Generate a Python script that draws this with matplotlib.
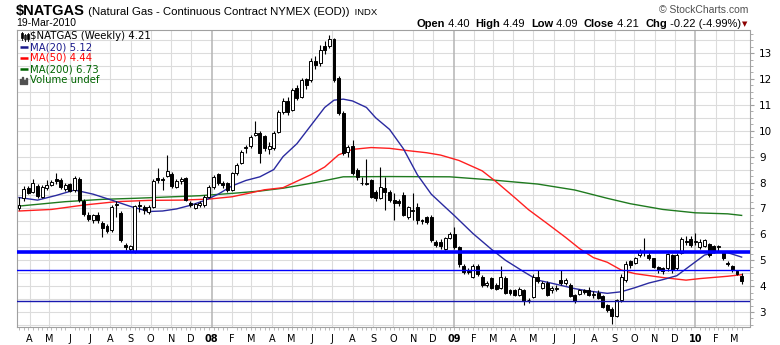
import numpy as np
import pandas as pd
import matplotlib
matplotlib.use('Agg')
import matplotlib.pyplot as plt

# weekly OHLC, first bar = week of 16-Mar-2007, last = 19-Mar-2010
opens = [7.02, 7.39, 7.77, 7.65, 7.88, 7.43, 7.78, 7.90, 8.12, 8.10,
         7.74, 7.93, 7.71, 8.12, 7.28, 6.74, 6.55, 6.74, 6.42, 6.32,
         6.16, 7.13, 6.81, 5.58, 5.45, 5.32, 7.13, 7.06, 6.87, 7.04,
         8.16, 8.14, 8.25, 8.33, 7.84, 8.07, 8.16, 7.19, 7.03, 7.13,
         7.13, 7.45, 7.84, 8.32, 7.97, 7.97, 7.71, 8.38, 8.77, 9.32,
         9.41, 9.84, 9.93, 9.78, 9.28, 9.32, 9.95, 10.74, 11.15, 10.80,
         11.64, 11.30, 11.99, 11.97, 12.68, 12.61, 13.26, 13.26, 13.54, 12.03,
         10.68, 9.19, 9.41, 8.48, 8.00, 7.95, 8.10, 7.65, 7.39, 7.77,
         7.65, 7.32, 7.30, 7.52, 6.68, 6.90, 7.05, 6.55, 6.65, 6.68,
         5.71, 5.71, 5.45, 5.84, 6.00, 5.52, 4.78, 4.60, 4.36, 4.78,
         4.36, 4.03, 4.32, 4.06, 3.91, 4.32, 3.84, 3.84, 3.65, 3.84,
         3.48, 3.58, 4.36, 3.92, 4.13, 3.84, 3.90, 4.22, 4.13, 4.06,
         3.65, 3.71, 3.84, 3.84, 3.65, 3.74, 3.60, 3.26, 3.13, 2.85,
         3.45, 4.23, 4.96, 4.90, 5.20, 5.30, 5.20, 5.07, 4.72, 4.68,
         4.68, 5.20, 4.68, 5.26, 5.75, 5.80, 5.70, 5.52, 5.55, 5.62,
         5.54, 5.50, 5.26, 4.90, 4.77, 4.59, 4.40]
highs = [7.45, 7.85, 7.85, 8.12, 7.95, 7.90, 8.10, 8.10, 8.38, 8.18,
         7.98, 8.00, 8.25, 8.22, 7.35, 6.85, 6.80, 6.85, 6.50, 6.40,
         7.12, 7.30, 6.90, 5.65, 5.60, 7.15, 7.30, 7.15, 7.15, 8.15,
         8.57, 8.20, 9.06, 8.40, 8.15, 8.20, 8.20, 7.28, 7.22, 7.30,
         7.50, 7.90, 8.30, 8.38, 8.05, 8.02, 8.40, 8.75, 9.25, 9.45,
         9.85, 10.39, 10.00, 9.85, 9.55, 9.98, 10.80, 11.25, 11.30, 11.65,
         11.75, 12.05, 12.05, 12.80, 12.90, 13.30, 13.45, 13.69, 13.60, 12.10,
         10.75, 9.45, 9.64, 8.55, 8.23, 8.90, 8.15, 7.70, 8.59, 8.20,
         7.70, 7.58, 7.35, 7.65, 7.10, 7.58, 7.20, 6.60, 6.70, 6.75,
         5.78, 5.80, 5.90, 6.10, 6.29, 5.56, 4.85, 4.70, 4.85, 4.85,
         4.42, 4.20, 4.35, 4.10, 4.78, 4.38, 3.90, 3.90, 3.95, 3.90,
         3.55, 4.45, 4.62, 4.20, 4.18, 4.00, 4.05, 4.62, 4.30, 4.12,
         3.70, 3.90, 3.90, 3.95, 3.80, 3.85, 3.65, 3.30, 3.18, 3.50,
         4.45, 4.95, 5.02, 5.12, 5.45, 5.84, 5.30, 5.10, 4.78, 4.75,
         5.26, 5.25, 5.28, 5.90, 5.92, 5.95, 6.05, 5.80, 5.82, 5.66,
         5.60, 5.60, 5.30, 4.95, 4.80, 4.62, 4.49]
lows = [6.95, 7.30, 7.55, 7.60, 7.42, 7.40, 7.70, 7.85, 7.95, 7.75,
        7.68, 7.62, 7.65, 7.25, 6.70, 6.50, 6.45, 6.45, 5.90, 6.05,
        6.10, 6.68, 5.70, 5.40, 5.30, 5.28, 6.85, 6.80, 6.80, 7.00,
        8.00, 7.71, 8.20, 7.80, 7.80, 7.95, 7.30, 7.05, 6.98, 7.05,
        7.05, 7.40, 7.75, 7.90, 7.80, 7.65, 7.68, 8.30, 8.70, 9.15,
        9.35, 9.78, 8.74, 9.20, 9.10, 9.25, 9.90, 10.65, 10.60, 10.75,
        11.20, 11.25, 11.60, 11.90, 12.40, 12.50, 12.95, 13.20, 11.90, 10.60,
        9.05, 9.00, 8.30, 8.10, 7.90, 7.90, 7.40, 7.30, 7.35, 6.95,
        7.25, 6.55, 7.10, 6.70, 6.60, 6.55, 6.40, 6.40, 6.40, 5.70,
        5.50, 5.45, 5.40, 5.80, 5.45, 4.75, 4.45, 4.45, 4.30, 4.40,
        3.95, 3.95, 3.88, 3.85, 3.88, 3.70, 3.65, 3.60, 3.60, 3.28,
        3.35, 3.55, 4.10, 3.88, 3.60, 3.75, 3.80, 4.05, 4.05, 3.58,
        3.35, 3.65, 3.70, 3.60, 3.55, 3.50, 3.15, 3.00, 2.55, 2.80,
        3.40, 4.15, 4.70, 4.85, 5.12, 5.18, 5.00, 4.68, 4.50, 4.48,
        4.60, 4.50, 4.62, 5.22, 5.60, 5.52, 5.60, 5.45, 5.50, 5.12,
        5.28, 5.30, 5.00, 4.78, 4.55, 4.42, 4.09]
closes = [7.13, 7.75, 7.61, 7.97, 7.48, 7.84, 7.90, 8.03, 8.07, 7.81,
          7.90, 7.68, 8.16, 7.32, 6.77, 6.58, 6.74, 6.55, 6.25, 6.12,
          7.06, 7.16, 5.78, 5.52, 5.54, 7.09, 7.10, 6.94, 7.06, 8.07,
          8.10, 8.10, 8.45, 7.87, 8.07, 8.12, 7.32, 7.13, 7.16, 7.19,
          7.45, 7.81, 8.20, 7.97, 7.90, 7.71, 8.36, 8.68, 9.19, 9.36,
          9.77, 9.93, 9.13, 9.32, 9.40, 9.90, 10.72, 11.15, 10.74, 11.56,
          11.28, 11.97, 11.75, 12.68, 12.55, 13.13, 13.13, 13.54, 11.97, 10.68,
          9.13, 9.39, 8.36, 8.23, 7.97, 8.00, 7.45, 7.39, 7.84, 7.65,
          7.32, 7.22, 7.20, 6.74, 7.06, 6.95, 6.55, 6.50, 6.48, 5.78,
          5.58, 5.55, 5.84, 6.03, 5.52, 4.85, 4.55, 4.55, 4.78, 4.45,
          4.03, 4.10, 3.93, 3.90, 4.36, 3.75, 3.72, 3.65, 3.88, 3.41,
          3.45, 4.36, 4.19, 4.12, 3.65, 3.93, 3.93, 4.13, 4.22, 3.62,
          3.41, 3.84, 3.78, 3.65, 3.71, 3.55, 3.20, 3.07, 2.85, 3.45,
          4.35, 4.87, 4.81, 5.07, 5.35, 5.36, 5.07, 4.72, 4.61, 4.60,
          5.22, 4.64, 5.20, 5.81, 5.70, 5.58, 5.73, 5.71, 5.77, 5.20,
          5.36, 5.52, 5.07, 4.85, 4.61, 4.48, 4.21]

# moving averages (week index, value)
ma20_idx = [0, 4, 8, 12, 16, 20, 24, 28, 31, 34, 37, 40, 43, 46, 49, 52, 55, 57, 60, 63,
            66, 68, 70, 72, 75, 77, 80, 83, 86, 89, 92, 94, 98, 102, 105, 109, 112, 116, 120, 123,
            127, 130, 133, 136, 139, 142, 145, 148, 151, 153, 156]
ma20_val = [7.42, 7.32, 7.50, 7.71, 7.55, 7.32, 7.08, 6.88, 6.90, 6.98, 7.12, 7.30, 7.55, 7.87, 8.08, 8.22, 8.50, 9.00, 9.50, 10.20,
            10.90, 11.18, 11.22, 11.15, 10.90, 10.50, 10.05, 9.30, 8.30, 7.55, 7.05, 6.72, 6.03, 5.42, 5.00, 4.55, 4.23, 4.07, 3.90, 3.81,
            3.72, 3.78, 3.94, 4.12, 4.25, 4.40, 4.80, 5.20, 5.32, 5.29, 5.12]
ma50_idx = [0, 7, 14, 21, 28, 35, 41, 46, 50, 53, 57, 60, 63, 66, 69, 72, 76, 80, 84, 88,
            91, 95, 100, 103, 107, 110, 114, 118, 121, 124, 127, 130, 133, 139, 144, 147, 153, 156]
ma50_val = [6.90, 6.96, 7.13, 7.26, 7.31, 7.32, 7.36, 7.45, 7.60, 7.72, 7.80, 8.05, 8.30, 8.60, 9.07, 9.28, 9.35, 9.32, 9.23, 9.15,
            9.06, 8.85, 8.45, 8.03, 7.42, 6.95, 6.42, 5.88, 5.45, 5.10, 4.92, 4.62, 4.48, 4.33, 4.23, 4.29, 4.38, 4.44]
ma200_idx = [0, 10, 18, 25, 32, 39, 46, 52, 57, 64, 70, 80, 93, 102, 112, 120, 127, 132, 139, 146, 153, 156]
ma200_val = [7.09, 7.26, 7.35, 7.39, 7.44, 7.49, 7.58, 7.67, 7.78, 8.00, 8.22, 8.23, 8.22, 8.10, 7.94, 7.71, 7.39, 7.18, 6.96, 6.83, 6.79, 6.73]

# drawn horizontal levels
level_thick = 5.32
level_mid = 4.62
level_low = 3.42

start = pd.Timestamp('2007-03-16')
o = np.array(opens); h = np.array(highs); l = np.array(lows); c = np.array(closes)
x = np.arange(len(c))

W, H = 780, 345
fig = plt.figure(figsize=(7.8, 3.45), dpi=100)
L, R, T, B = 17, 749.5, 30, 327
ax = fig.add_axes([L / W, 1 - B / H, (R - L) / W, (B - T) / H])
ax.set_xlim(-0.43, 157.7)
ax.set_ylim(2.42, 13.89)

# grid
for v in np.arange(2.5, 14.0, 0.5):
    ax.axhline(v, color='#dcdcdc', lw=0.8, zorder=0)
months = pd.date_range('2007-04-01', '2010-03-01', freq='MS')
mpos = [(m - start).days / 7 for m in months]
for m, p in zip(months, mpos):
    if m.month == 1:
        ax.axvline(p, color='#b4b4b4', lw=1.1, zorder=0)
    else:
        ax.axvline(p, color='#dcdcdc', lw=0.8, zorder=0)

# moving averages
ax.plot(ma200_idx, ma200_val, color='#1f7a1f', lw=1.0, zorder=2)
ax.plot(ma50_idx, ma50_val, color='#ff2020', lw=1.0, zorder=2)
ax.plot(ma20_idx, ma20_val, color='#2a2aa0', lw=1.0, zorder=2)

# candles
ax.vlines(x, l, h, color='black', lw=0.8, zorder=3)
bot = np.minimum(o, c)
hgt = np.maximum(np.abs(c - o), 0.03)
cols = np.where(c >= o, 'white', 'black')
ax.bar(x, hgt, 0.64, bot, color=cols, edgecolor='black', lw=0.7, zorder=4)

# levels
ax.axhline(level_thick, color='#0000ff', lw=2.6, zorder=5)
ax.axhline(level_mid, color='#0000ff', lw=1.0, zorder=5)
ax.axhline(level_low, color='#1818b0', lw=1.0, zorder=5)

# axes styling
for s in ax.spines.values():
    s.set_color('#a0a0a0')
    s.set_linewidth(0.8)
ax.yaxis.tick_right()
ax.set_yticks(range(3, 14))
ax.set_yticks(np.arange(2.5, 13.9, 0.25), minor=True)
ax.tick_params(axis='y', which='major', length=3, color='#a0a0a0', labelsize=7.5, pad=4)
ax.tick_params(axis='y', which='minor', length=2, color='#a0a0a0')

labels = []
for m in months:
    if m.month == 1:
        labels.append(m.strftime('%y'))
    else:
        labels.append(m.strftime('%b')[0])
ax.set_xticks(mpos)
ax.set_xticklabels(labels)
ax.set_xticks(x, minor=True)
ax.tick_params(axis='x', which='major', length=0, labelsize=7, pad=5)
ax.tick_params(axis='x', which='minor', length=2, color='#b0b0b0')
for t, m in zip(ax.get_xticklabels(), months):
    if m.month == 1:
        t.set_fontweight('bold')

# header texts
fig.canvas.draw()
rend = fig.canvas.get_renderer()


def put_row(pieces, x0, y0, align='left'):
    # pieces: (text, size, weight, color); placed one after another
    arts = []
    for txt, size, wt, col in pieces:
        a = fig.text(0, 1 - y0 / H, txt, fontsize=size, fontweight=wt, color=col,
                     family='Liberation Sans', va='baseline', ha='left')
        arts.append(a)
    widths = [a.get_window_extent(rend).width for a in arts]
    xx = x0 if align == 'left' else x0 - sum(widths)
    for a, w in zip(arts, widths):
        a.set_x(xx / W)
        xx += w
    return xx


put_row([('$NATGAS', 10.5, 'bold', 'black'),
         (' (Natural Gas - Continuous Contract NYMEX (EOD)) ', 8.2, 'normal', 'black'),
         (' INDX', 6.8, 'normal', 'black')], 16, 15)
fig.text(16 / W, 1 - 26 / H, '19-Mar-2010', fontsize=7.5, family='Liberation Sans', va='baseline')
fig.text(748 / W, 1 - 13 / H, '\u00a9 StockCharts.com', fontsize=7.5, family='Liberation Sans',
         color='#505050', ha='right', va='baseline')
put_row([('Open', 8, 'bold', 'black'), (' 4.40  ', 8, 'normal', 'black'),
         ('High', 8, 'bold', 'black'), (' 4.49  ', 8, 'normal', 'black'),
         ('Low', 8, 'bold', 'black'), (' 4.09  ', 8, 'normal', 'black'),
         ('Close', 8, 'bold', 'black'), (' 4.21  ', 8, 'normal', 'black'),
         ('Chg', 8, 'bold', 'black'), (' -0.22 (-4.99%)', 8, 'normal', 'black')], 741, 27, 'right')
fig.text(745 / W, 1 - 26 / H, '\u25bc', fontsize=5, color='#8b0000', ha='center', va='baseline')

# legend inside plot
leg = [('$NATGAS (Weekly) 4.21', 'black', None),
       ('MA(20) 5.12', '#1a1a8c', '#1a1a8c'),
       ('MA(50) 4.44', '#ff0000', '#ff0000'),
       ('MA(200) 6.73', '#006400', '#006400'),
       ('Volume undef', '#006400', None)]
for k, (txt, col, lc) in enumerate(leg):
    yy = 36 + 11 * k
    fig.text(30.5 / W, 1 - yy / H, txt, fontsize=7.3, color=col, va='center', ha='left')
    if lc is not None:
        fig.add_artist(plt.Line2D([20 / W, 28 / W], [1 - yy / H] * 2, color=lc, lw=1.8,
                                  solid_capstyle='butt'))
# candle icon for the price row
for j, (yb, hh, filled) in enumerate([(33, 5, True), (35, 4, False), (34, 5, True)]):
    xc = 21 + 3 * j
    fig.add_artist(plt.Line2D([(xc + 0.5) / W] * 2, [1 - (yb + hh + 1.5) / H, 1 - (yb - 1.5) / H],
                              color='black', lw=0.6))
    fig.add_artist(plt.Rectangle((xc / W, 1 - (yb + hh) / H), 1.6 / W, hh / H,
                                 facecolor='black' if filled else 'white', edgecolor='black', lw=0.5))
# bar icon for the volume row
for j, hh in enumerate([5, 7, 4, 6]):
    fig.add_artist(plt.Rectangle(((20 + 2 * j) / W, 1 - 84 / H), 1.3 / W, hh / H, color='#505050'))

fig.savefig('out.png', dpi=100)
